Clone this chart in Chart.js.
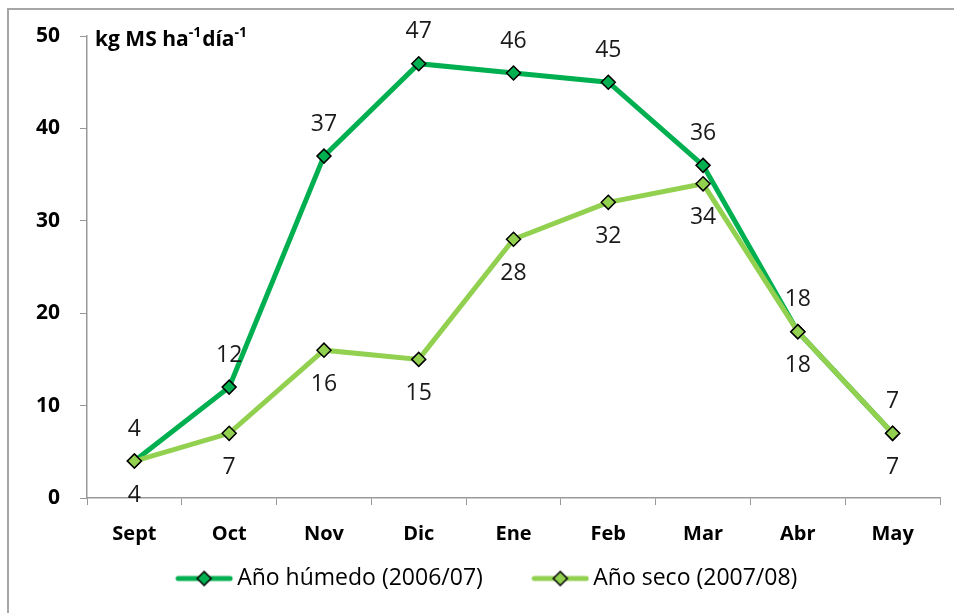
<!DOCTYPE html>
<html>
<head>
<meta charset="utf-8">
<script src="https://cdn.jsdelivr.net/npm/chart.js@4"></script>
<style>
  body { margin: 0; background: #fff; }
  #wrap { width: 954px; height: 613px; position: relative; }
</style>
</head>
<body>
<div id="wrap"><canvas id="chart" width="954" height="613"></canvas></div>
<script>
const months = ["Sept", "Oct", "Nov", "Dic", "Ene", "Feb", "Mar", "Abr", "May"];
const humedo = [4, 12, 37, 47, 46, 45, 36, 18, 7];
const seco = [4, 7, 16, 15, 28, 32, 34, 18, 7];
const yTicks = [0, 10, 20, 30, 40, 50];

const darkGreen = "#00B050";
const lightGreen = "#92D050";
const fontName = "'Open Sans', sans-serif";

// legend icon: line with a diamond in the middle
function legendIcon(color) {
  const c = document.createElement("canvas");
  c.width = 58; c.height = 18;
  const g = c.getContext("2d");
  g.strokeStyle = color;
  g.lineWidth = 5;
  g.lineCap = "round";
  g.beginPath(); g.moveTo(3, 9); g.lineTo(55, 9); g.stroke();
  g.fillStyle = color;
  g.strokeStyle = "#000";
  g.lineWidth = 1.5;
  g.beginPath();
  g.moveTo(29, 2); g.lineTo(36, 9); g.lineTo(29, 16); g.lineTo(22, 9); g.closePath();
  g.fill(); g.stroke();
  return c;
}

const extras = {
  id: "extras",
  afterLayout(chart) {
    // nudge the legend a little to the right, as in the original
    chart.legend.left += 12;
    chart.legend.right += 12;
  },
  beforeDraw(chart) {
    const ctx = chart.ctx;
    ctx.save();
    ctx.strokeStyle = "#a6a6a6";
    ctx.lineWidth = 2;
    ctx.beginPath();
    ctx.moveTo(8, 613); ctx.lineTo(8, 9); ctx.lineTo(954, 9);
    ctx.stroke();
    ctx.restore();
  },
  afterDatasetsDraw(chart) {
    const ctx = chart.ctx;
    ctx.save();
    ctx.font = "23px " + fontName;
    ctx.fillStyle = "#1a1a1a";
    ctx.textAlign = "center";
    ctx.textBaseline = "middle";
    chart.getDatasetMeta(0).data.forEach((p, i) => {
      ctx.fillText(String(humedo[i]), p.x, p.y - 32);
    });
    chart.getDatasetMeta(1).data.forEach((p, i) => {
      ctx.fillText(String(seco[i]), p.x, p.y + 34);
    });
    // unit label with superscripts
    const y = chart.scales.y.getPixelForValue(50) + 4;
    let x = chart.chartArea.left + 8;
    ctx.textAlign = "left";
    ctx.textBaseline = "alphabetic";
    const parts = [["kg MS ha", 0], ["-1", 1], ["día", 0], ["-1", 1]];
    parts.forEach(([t, sup]) => {
      ctx.font = (sup ? "bold 14px " : "bold 21px ") + fontName;
      ctx.fillStyle = "#000";
      ctx.fillText(t, x, sup ? y - 3 : y + 6);
      x += ctx.measureText(t).width + (sup ? 1 : 0);
    });
    ctx.restore();
  }
};

new Chart(document.getElementById("chart"), {
  type: "line",
  data: {
    labels: months,
    datasets: [
      {
        label: "Año húmedo (2006/07)",
        data: humedo,
        borderColor: darkGreen,
        backgroundColor: darkGreen,
        borderWidth: 5,
        pointStyle: "rectRot",
        pointRadius: 7,
        pointBorderColor: "#000",
        pointBorderWidth: 1.5,
        pointBackgroundColor: darkGreen,
        order: 1
      },
      {
        label: "Año seco (2007/08)",
        data: seco,
        borderColor: lightGreen,
        backgroundColor: lightGreen,
        borderWidth: 5,
        pointStyle: "rectRot",
        pointRadius: 7,
        pointBorderColor: "#000",
        pointBorderWidth: 1.5,
        pointBackgroundColor: lightGreen,
        order: 0
      }
    ]
  },
  options: {
    responsive: false,
    animation: false,
    layout: { padding: { left: 16, right: 14, top: 36, bottom: 13 } },
    plugins: {
      tooltip: { enabled: false },
      legend: {
        position: "bottom",
        labels: {
          usePointStyle: true,
          pointStyleWidth: 43,
          boxHeight: 18,
          padding: 4,
          color: "#1a1a1a",
          font: { family: fontName, size: 23 },
          sort: (a, b) => a.datasetIndex - b.datasetIndex,
          generateLabels(chart) {
            return chart.data.datasets.map((d, i) => ({
              // trailing spaces widen the gap before the next item
              text: i === 0 ? d.label + "\u2003\u2003 " : d.label,
              pointStyle: legendIcon(d.borderColor),
              datasetIndex: i,
              fillStyle: d.borderColor,
              strokeStyle: d.borderColor,
              lineWidth: 0,
              hidden: false
            }));
          }
        }
      }
    },
    scales: {
      x: {
        offset: true,
        grid: { offset: true, drawOnChartArea: false, drawTicks: true, tickLength: 7, color: "#999" },
        border: { color: "#999", width: 1.5 },
        ticks: { color: "#000", padding: 17, font: { family: fontName, size: 20, weight: "bold" } }
      },
      y: {
        min: 0,
        max: 50,
        afterBuildTicks(scale) { scale.ticks = yTicks.map(v => ({ value: v })); },
        grid: { drawOnChartArea: false, drawTicks: true, tickLength: 7, color: "#999" },
        border: { color: "#999", width: 1.5 },
        ticks: { color: "#000", padding: 20, font: { family: fontName, size: 21, weight: "bold" } }
      }
    }
  },
  plugins: [extras]
});
</script>
</body>
</html>
